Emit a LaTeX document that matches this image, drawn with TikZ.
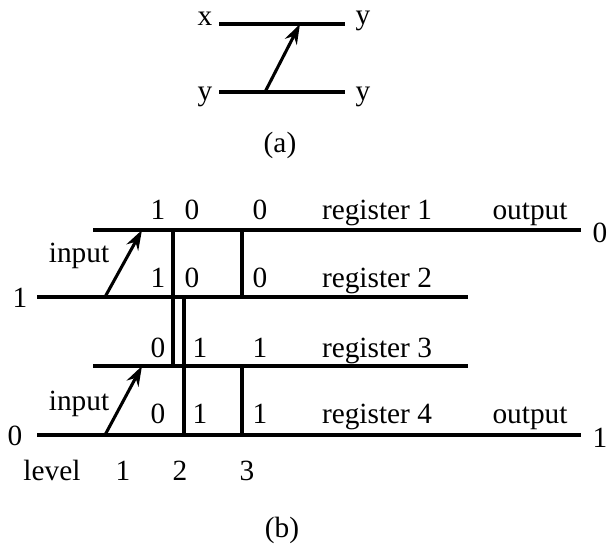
\documentclass[tikz,border=0pt]{standalone}
\usepackage{fontspec}
\setmainfont{Liberation Serif}
\usetikzlibrary{arrows.meta}
\begin{document}
\begin{tikzpicture}[x=0.75pt,y=-0.75pt,
  wire/.style={line width=2.3pt},
  bar/.style={line width=2.3pt},
  push/.style={line width=2.3pt,-{Stealth[length=15pt,width=10pt]}},
  lbl/.style={inner sep=0pt,anchor=base,font=\fontsize{22}{26}\selectfont}]
\useasboundingbox (0,0) rectangle (610,546);
% ---------- (a)
\coordinate (a1l) at (219,24); \coordinate (a1r) at (345,24);
\coordinate (a2l) at (219,92); \coordinate (a2r) at (345,92);
\coordinate (aFrom) at (265,92); \coordinate (aTo) at (300,24);
\draw[wire] (a1l) -- (a1r);
\draw[wire] (a2l) -- (a2r);
\draw[push] (aFrom) -- (aTo);
\node[lbl] (ax) at (205,25) {x};
\node[lbl] (ay1) at (363,24) {y};
\node[lbl] (ay2) at (205,100) {y};
\node[lbl] (ay3) at (363,100) {y};
\node[lbl] (acap) at (280,152) {(a)};
% ---------- (b)
\coordinate (r1l) at (93,230);  \coordinate (r1r) at (581,230);
\coordinate (r2l) at (37,297);  \coordinate (r2r) at (468,297);
\coordinate (r3l) at (93,366);  \coordinate (r3r) at (468,366);
\coordinate (r4l) at (37,435);  \coordinate (r4r) at (581,435);
\foreach \r in {1,2,3,4} \draw[wire] (r\r l) -- (r\r r);
% vertical bars
\coordinate (v1a) at (173,230); \coordinate (v1b) at (173,297);
\coordinate (v2a) at (242,230); \coordinate (v2b) at (242,297);
\coordinate (v3a) at (173,297); \coordinate (v3b) at (173,366);
\coordinate (v4a) at (184,297); \coordinate (v4b) at (184,366);
\coordinate (v5a) at (184,366); \coordinate (v5b) at (184,435);
\coordinate (v6a) at (242,366); \coordinate (v6b) at (242,435);
\foreach \v in {1,...,6} \draw[bar] (v\v a) -- (v\v b);
% input arrows
\coordinate (i1f) at (105,297); \coordinate (i1t) at (142,230);
\coordinate (i2f) at (105,435); \coordinate (i2t) at (142,366);
\draw[push] (i1f) -- (i1t);
\draw[push] (i2f) -- (i2t);
% end labels
\node[lbl] (in1) at (20,307) {1};
\node[lbl] (in0) at (15,445) {0};
\node[lbl] (out0) at (600,242) {0};
\node[lbl] (out1) at (600,447) {1};
% digits
\node[lbl] (d11) at (158,219) {1};
\node[lbl] (d12) at (192,219) {0};
\node[lbl] (d13) at (260,219) {0};
\node[lbl] (d21) at (158,287) {1};
\node[lbl] (d22) at (192,287) {0};
\node[lbl] (d23) at (260,287) {0};
\node[lbl] (d31) at (158,357) {0};
\node[lbl] (d32) at (200,357) {1};
\node[lbl] (d33) at (260,357) {1};
\node[lbl] (d41) at (158,423) {0};
\node[lbl] (d42) at (200,423) {1};
\node[lbl] (d43) at (260,423) {1};
% texts
\node[lbl] (inp1) at (79,262) {input};
\node[lbl] (inp2) at (79,410) {input};
\node[lbl] (reg1) at (377,219) {register 1};
\node[lbl] (reg2) at (377,287) {register 2};
\node[lbl] (reg3) at (377,357) {register 3};
\node[lbl] (reg4) at (377,423) {register 4};
\node[lbl] (outA) at (530,219) {output};
\node[lbl] (outB) at (530,423) {output};
\node[lbl] (lev) at (52,480) {level};
\node[lbl] (l1) at (123,480) {1};
\node[lbl] (l2) at (180,480) {2};
\node[lbl] (l3) at (247,480) {3};
\node[lbl] (bcap) at (282,537) {(b)};
\end{tikzpicture}
\end{document}
